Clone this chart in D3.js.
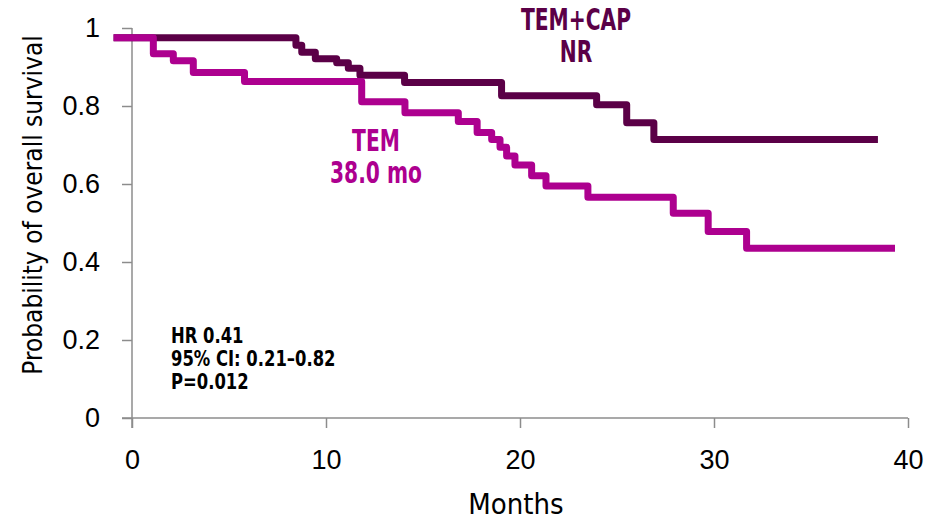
<!DOCTYPE html>
<html lang="en">
<head>
  <meta charset="UTF-8">
  <title>Overall survival</title>
<style>
    body { margin: 0; background: #fff; }
    svg { display: block; font-family: "DejaVu Sans Condensed", "DejaVu Sans", sans-serif; }
    .axis path, .axis line { stroke: #8c8c8c; stroke-width: 1.5; }
    .axis text { font-size: 27px; fill: #000; }
    .curve { fill: none; stroke-width: 7; stroke-linejoin: round; }
    .note { font-weight: bold; }
  </style>
</head>
<body>
<svg id="chart" width="929" height="522"></svg>
<script src="https://d3js.org/d3.v7.min.js"></script>
<script>
    // Kaplan-Meier steps: time (months) where each level starts
    const temcapTimes = [-0.95, 8.45, 8.75, 9.45, 10.55, 11.15, 11.75, 14.05, 19.05, 23.95, 25.5, 26.9, 38.45];
    const temcapSurv  = [0.975, 0.956, 0.938, 0.921, 0.911, 0.897, 0.879, 0.86, 0.826, 0.803, 0.757, 0.714, 0.714];

    const temTimes = [-0.95, 1.1, 2.13, 3.16, 5.8, 11.84, 14.07, 16.82, 17.79, 18.54, 18.97, 19.31, 19.74, 20.6, 21.34, 23.5, 27.9, 29.7, 31.68, 39.33];
    const temSurv  = [0.975, 0.934, 0.916, 0.886, 0.863, 0.811, 0.783, 0.760, 0.732, 0.714, 0.694, 0.672, 0.649, 0.621, 0.595, 0.566, 0.525, 0.478, 0.435, 0.435];

    const xTicks = [0, 10, 20, 30, 40];
    const yTicks = [0, 0.2, 0.4, 0.6, 0.8, 1];
    const statLines = ['HR 0.41', '95% CI: 0.21\u20130.82', 'P=0.012'];

    const svg = d3.select('#chart');

    const x = d3.scaleLinear().domain([0, 40]).range([132, 908]);
    const y = d3.scaleLinear().domain([0, 1]).range([418, 28]);

    // axes (Excel style: ticks cross outwards, lines overshoot a little)
    const gx = svg.append('g')
      .attr('class', 'axis')
      .attr('transform', 'translate(0,418)')
      .call(d3.axisBottom(x).tickValues(xTicks).tickFormat(d3.format('d')).tickSize(10).tickSizeOuter(0).tickPadding(22));
    gx.select('.domain').remove();
    gx.append('line').attr('x1', 122).attr('x2', 908).attr('y1', 0).attr('y2', 0);

    const gy = svg.append('g')
      .attr('class', 'axis')
      .attr('transform', 'translate(132,0)')
      .call(d3.axisLeft(y).tickValues(yTicks).tickFormat(d => d3.format('')(d)).tickSize(10).tickSizeOuter(0).tickPadding(22));
    gy.select('.domain').remove();
    gy.append('line').attr('x1', 0).attr('x2', 0).attr('y1', 28).attr('y2', 428);

    // axis titles
    svg.append('text')
      .attr('x', 516).attr('y', 514)
      .attr('text-anchor', 'middle')
      .style('font-size', '29px')
      .text('Months');

    svg.append('text')
      .attr('transform', 'translate(42,205) rotate(-90)')
      .attr('text-anchor', 'middle')
      .style('font-size', '26px')
      .text('Probability of overall survival');

    // curves
    const line = d3.line()
      .x(d => x(d[0]))
      .y(d => y(d[1]))
      .curve(d3.curveStepAfter);

    const series = [
      { times: temcapTimes, surv: temcapSurv, color: '#5b0047' },
      { times: temTimes, surv: temSurv, color: '#ad008f' }
    ];

    series.forEach(s => {
      svg.append('path')
        .attr('class', 'curve')
        .attr('stroke', s.color)
        .attr('d', line(d3.zip(s.times, s.surv)));
    });

    // labels (narrowed to mimic the condensed bold face of the original)
    function label(cx, lines, color, y0, dy) {
      const t = svg.append('text').attr('class', 'note')
        .attr('transform', `translate(${cx},0) scale(0.75,1)`)
        .attr('text-anchor', 'middle').attr('fill', color).style('font-size', '30px');
      lines.forEach((s, i) => t.append('tspan').attr('x', 0).attr('y', y0 + i * dy).text(s));
    }
    label(576, ['TEM+CAP', 'NR'], '#5b0047', 30, 32);
    label(376, ['TEM', '38.0 mo'], '#ad008f', 151, 32);

    svg.append('g')
      .attr('transform', 'translate(171,0) scale(0.89,1)')
      .selectAll('text')
      .data(statLines)
      .join('text')
      .attr('class', 'note')
      .attr('x', 0)
      .attr('y', (d, i) => 343 + i * 23)
      .style('font-size', '20.5px')
      .text(d => d);
  </script>
</body>
</html>
